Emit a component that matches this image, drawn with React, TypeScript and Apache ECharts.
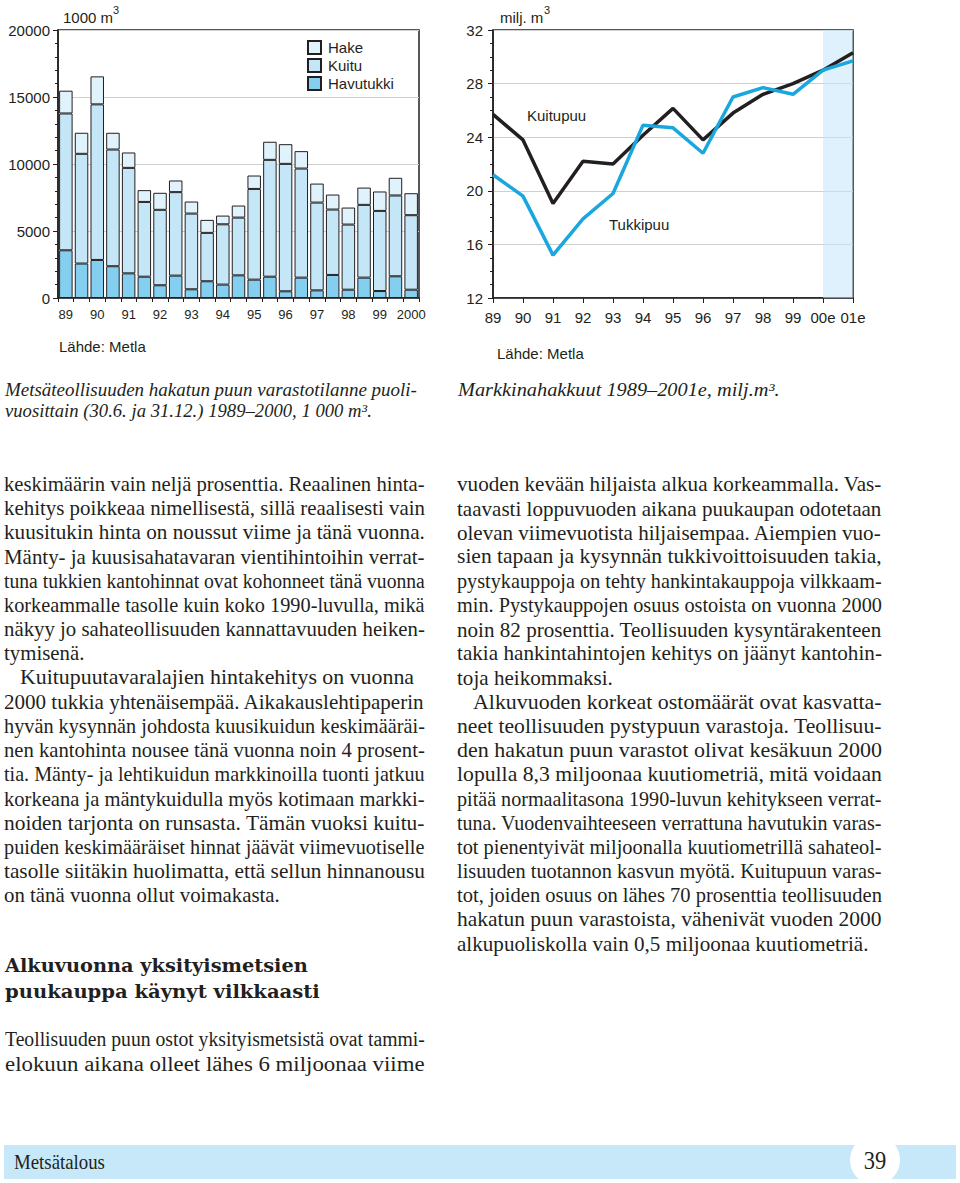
import React, { useEffect, useRef } from 'react';
import * as echarts from 'echarts';

// ---------- Left chart: half-yearly stocks, 1000 m3 ----------
const halfYears = [
  '30.6.1989', '31.12.1989', '30.6.1990', '31.12.1990', '30.6.1991', '31.12.1991',
  '30.6.1992', '31.12.1992', '30.6.1993', '31.12.1993', '30.6.1994', '31.12.1994',
  '30.6.1995', '31.12.1995', '30.6.1996', '31.12.1996', '30.6.1997', '31.12.1997',
  '30.6.1998', '31.12.1998', '30.6.1999', '31.12.1999', '30.6.2000',
];
const yearTickLabels = ['89', '90', '91', '92', '93', '94', '95', '96', '97', '98', '99', '2000'];
const havutukki = [3560, 2570, 2840, 2370, 1840, 1590, 950, 1670, 650, 1250, 1000, 1690, 1370, 1590, 500, 1520, 570, 1720, 620, 1520, 520, 1620, 620];
const kuitu = [10210, 8190, 11610, 8710, 7870, 5580, 5630, 6230, 5650, 3610, 4500, 4310, 6770, 8720, 9510, 8140, 6550, 4880, 4860, 5430, 5980, 6030, 5560];
const hake = [1700, 1570, 2090, 1250, 1150, 880, 1270, 870, 900, 970, 650, 900, 1000, 1350, 1470, 1300, 1420, 1120, 1270, 1290, 1450, 1320, 1640];

// ---------- Right chart: market fellings, milj. m3 ----------
const marketYears = ['89', '90', '91', '92', '93', '94', '95', '96', '97', '98', '99', '00e', '01e'];
const kuitupuu = [25.7, 23.8, 19.05, 22.2, 22.0, 24.15, 26.15, 23.8, 25.8, 27.2, 28.0, 29.0, 30.3];
const tukkipuu = [21.2, 19.6, 15.2, 17.9, 19.8, 24.9, 24.7, 22.8, 27.0, 27.7, 27.2, 29.0, 29.7];

// ---------- Page text ----------
type Line = { t: string; j?: boolean; ind?: number; end?: number };

const leftColumn: Line[] = [
  { t: 'keskimäärin vain neljä prosenttia. Reaalinen hinta-', j: true },
  { t: 'kehitys poikkeaa nimellisestä, sillä reaalisesti vain', j: true },
  { t: 'kuusitukin hinta on noussut viime ja tänä vuonna.', j: true },
  { t: 'Mänty- ja kuusisahatavaran vientihintoihin verrat-', j: true },
  { t: 'tuna tukkien kantohinnat ovat kohonneet tänä vuonna', j: true },
  { t: 'korkeammalle tasolle kuin koko 1990-luvulla, mikä', j: true },
  { t: 'näkyy jo sahateollisuuden kannattavuuden heiken-', j: true },
  { t: 'tymisenä.' },
  { t: 'Kuitupuutavaralajien hintakehitys on vuonna', j: true, ind: 16 },
  { t: '2000 tukkia yhtenäisempää. Aikakauslehtipaperin', j: true },
  { t: 'hyvän kysynnän johdosta kuusikuidun keskimääräi-', j: true },
  { t: 'nen kantohinta nousee tänä vuonna noin 4 prosent-', j: true },
  { t: 'tia. Mänty- ja lehtikuidun markkinoilla tuonti jatkuu', j: true },
  { t: 'korkeana ja mäntykuidulla myös kotimaan markki-', j: true },
  { t: 'noiden tarjonta on runsasta. Tämän vuoksi kuitu-', j: true },
  { t: 'puiden keskimääräiset hinnat jäävät viimevuotiselle', j: true },
  { t: 'tasolle siitäkin huolimatta, että sellun hinnanousu', j: true },
  { t: 'on tänä vuonna ollut voimakasta.' },
];

const rightColumn: Line[] = [
  { t: 'vuoden kevään hiljaista alkua korkeammalla. Vas-', j: true },
  { t: 'taavasti loppuvuoden aikana puukaupan odotetaan', j: true },
  { t: 'olevan viimevuotista hiljaisempaa. Aiempien vuo-', j: true },
  { t: 'sien tapaan ja kysynnän tukkivoittoisuuden takia,', j: true },
  { t: 'pystykauppoja on tehty hankintakauppoja vilkkaam-', j: true },
  { t: 'min. Pystykauppojen osuus ostoista on vuonna 2000', j: true },
  { t: 'noin 82 prosenttia. Teollisuuden kysyntärakenteen', j: true },
  { t: 'takia hankintahintojen kehitys on jäänyt kantohin-', j: true },
  { t: 'toja heikommaksi.' },
  { t: 'Alkuvuoden korkeat ostomäärät ovat kasvatta-', j: true, ind: 16 },
  { t: 'neet teollisuuden pystypuun varastoja. Teollisuu-', j: true },
  { t: 'den hakatun puun varastot olivat kesäkuun 2000', j: true },
  { t: 'lopulla 8,3 miljoonaa kuutiometriä, mitä voidaan', j: true },
  { t: 'pitää normaalitasona 1990-luvun kehitykseen verrat-', j: true },
  { t: 'tuna. Vuodenvaihteeseen verrattuna havutukin varas-', j: true },
  { t: 'tot pienentyivät miljoonalla kuutiometrillä sahateol-', j: true },
  { t: 'lisuuden tuotannon kasvun myötä. Kuitupuun varas-', j: true },
  { t: 'tot, joiden osuus on lähes 70 prosenttia teollisuuden', j: true },
  { t: 'hakatun puun varastoista, vähenivät vuoden 2000', j: true },
  { t: 'alkupuoliskolla vain 0,5 miljoonaa kuutiometriä.' },
];

const headline: Line[] = [
  { t: 'Alkuvuonna yksityismetsien', end: 308 },
  { t: 'puukauppa käynyt vilkkaasti', end: 320 },
];

const bottomPara: Line[] = [
  { t: 'Teollisuuden puun ostot yksityismetsistä ovat tammi-', end: 425 },
  { t: 'elokuun aikana olleet lähes 6 miljoonaa viime', j: true },
];

const leftCaption: Line[] = [
  { t: 'Metsäteollisuuden hakatun puun varastotilanne puoli-', end: 417 },
  { t: 'vuosittain (30.6. ja 31.12.) 1989–2000, 1 000 m³.', end: 372 },
];
const rightCaption: Line[] = [{ t: 'Markkinahakkuut 1989–2001e, milj.m³.', end: 780 }];

const INK = '#231f20';
const SANS = 'Liberation Sans';
const SERIF = 'Liberation Serif';

let measureCtx: CanvasRenderingContext2D | null = null;
function measure(text: string, font: string): number {
  if (!measureCtx) measureCtx = document.createElement('canvas').getContext('2d');
  if (!measureCtx) return text.length * 9;
  measureCtx.font = font;
  return measureCtx.measureText(text).width;
}

type BlockOpt = {
  x0: number; right: number; y0: number; step: number; size: number;
  family: string; style?: string; weight?: string; color?: string;
};

function textLines(lines: Line[], o: BlockOpt): any[] {
  const style = o.style || 'normal';
  const weight = o.weight || 'normal';
  const font = `${style} ${weight} ${o.size}px "${o.family}"`;
  const ratios = lines
    .filter((l) => l.j)
    .map((l) => (o.right - o.x0 - (l.ind || 0)) / measure(l.t, font))
    .sort((a, b) => a - b);
  const med = ratios.length ? ratios[Math.floor(ratios.length / 2)] : 1;
  return lines.map((l, i) => {
    const x = o.x0 + (l.ind || 0);
    const w = measure(l.t, font);
    let s = med;
    if (l.end) s = (l.end - x) / w;
    else if (l.j) s = Math.max(0.85, Math.min((o.right - x) / w, med * 1.05));
    return {
      type: 'text',
      x,
      y: o.y0 + i * o.step,
      scaleX: s,
      silent: true,
      style: {
        text: l.t,
        fontSize: o.size,
        fontFamily: o.family,
        fontStyle: style,
        fontWeight: weight,
        fill: o.color || INK,
        align: 'left',
        verticalAlign: 'middle',
      },
    };
  });
}

function plainText(text: string, x: number, y: number, size: number, extra: any = {}) {
  return {
    type: 'text',
    x,
    y,
    silent: true,
    style: {
      text,
      fontSize: size,
      fontFamily: SANS,
      fill: INK,
      align: 'left',
      verticalAlign: 'middle',
      ...extra,
    },
  };
}

function buildOption(): any {
  const axisLine = { show: true, lineStyle: { color: INK, width: 1.5 } };
  const tickStyle = { color: INK, width: 1 };
  const barItem = (color: string) => ({ color, borderColor: INK, borderWidth: 1 });

  const graphics: any[] = [
    // unit labels
    plainText('1000 m', 63, 17, 15),
    plainText('3', 113, 10, 11),
    plainText('milj. m', 500, 17, 15),
    plainText('3', 544, 10, 11),
    // series labels in the line chart
    plainText('Kuitupuu', 527, 115, 15),
    plainText('Tukkipuu', 609, 224, 15),
    // sources
    plainText('Lähde: Metla', 59, 346, 15),
    plainText('Lähde: Metla', 497, 353, 15),
    // captions
    ...textLines(leftCaption, { x0: 5, right: 417, y0: 390, step: 21.5, size: 18, family: SERIF, style: 'italic' }),
    ...textLines(rightCaption, { x0: 458, right: 780, y0: 390, step: 21.5, size: 18, family: SERIF, style: 'italic' }),
    // body text
    ...textLines(leftColumn, { x0: 4, right: 425, y0: 484, step: 24.2, size: 20.5, family: SERIF }),
    ...textLines(rightColumn, { x0: 457, right: 882, y0: 484, step: 24.2, size: 20.5, family: SERIF }),
    ...textLines(headline, { x0: 5, right: 320, y0: 966, step: 26, size: 19, family: 'DejaVu Serif', weight: 'bold' }),
    ...textLines(bottomPara, { x0: 5, right: 425, y0: 1039, step: 25, size: 20.5, family: SERIF }),
    // footer
    {
      type: 'rect',
      silent: true,
      shape: { x: 4, y: 1145, width: 952, height: 34 },
      style: { fill: '#c6e8f8' },
    },
    {
      type: 'circle',
      silent: true,
      shape: { cx: 875, cy: 1160, r: 25 },
      style: { fill: '#ffffff' },
    },
    ...textLines([{ t: 'Metsätalous', end: 105 }], { x0: 14, right: 105, y0: 1162, step: 0, size: 20, family: SERIF }),
    {
      type: 'text',
      x: 875,
      y: 1161,
      scaleX: 0.9,
      silent: true,
      style: { text: '39', fontSize: 25, fontFamily: SERIF, fill: INK, align: 'center', verticalAlign: 'middle' },
    },
  ];

  return {
    animation: false,
    backgroundColor: '#ffffff',
    textStyle: { fontFamily: SANS, color: INK },
    grid: [
      { left: 58, top: 30, width: 361, height: 268, show: true, borderColor: INK, borderWidth: 1.5, backgroundColor: 'transparent' },
      { left: 493, top: 30, width: 360, height: 268, show: true, borderColor: INK, borderWidth: 1.5, backgroundColor: 'transparent' },
    ],
    legend: {
      data: ['Hake', 'Kuitu', 'Havutukki'],
      orient: 'vertical',
      left: 307,
      top: 40,
      padding: 0,
      itemWidth: 13,
      itemHeight: 13,
      itemGap: 3,
      icon: 'rect',
      selectedMode: false,
      textStyle: { fontSize: 15, fontFamily: SANS, color: INK, padding: [0, 0, 0, 2] },
    },
    xAxis: [
      {
        type: 'category',
        gridIndex: 0,
        data: halfYears,
        boundaryGap: true,
        axisLine,
        axisTick: { show: true, interval: 0, length: 4, lineStyle: tickStyle },
        axisLabel: {
          interval: 0,
          margin: 10,
          fontSize: 13,
          color: INK,
          fontFamily: SANS,
          formatter: (_v: string, i: number) => (i % 2 === 0 ? yearTickLabels[i / 2] : ''),
        },
        splitLine: { show: false },
      },
      {
        type: 'category',
        gridIndex: 1,
        data: marketYears,
        boundaryGap: false,
        axisLine,
        axisTick: { show: true, interval: 0, length: 5, lineStyle: tickStyle },
        axisLabel: { interval: 0, margin: 12, fontSize: 15, color: INK, fontFamily: SANS },
        splitLine: { show: false },
      },
    ],
    yAxis: [
      {
        type: 'value',
        gridIndex: 0,
        min: 0,
        max: 20000,
        interval: 5000,
        axisLine,
        axisTick: { show: true, length: 5, lineStyle: tickStyle },
        minorTick: { show: true, splitNumber: 5, length: 3, lineStyle: tickStyle },
        splitLine: { show: true, lineStyle: { color: '#cfcfcf', width: 1 } },
        axisLabel: { margin: 8, fontSize: 15, color: INK, fontFamily: SANS, formatter: (v: number) => String(v) },
      },
      {
        type: 'value',
        gridIndex: 1,
        min: 12,
        max: 32,
        interval: 4,
        axisLine,
        axisTick: { show: true, length: 5, lineStyle: tickStyle },
        minorTick: { show: true, splitNumber: 4, length: 3, lineStyle: tickStyle },
        splitLine: { show: true, lineStyle: { color: '#cfcfcf', width: 1 } },
        axisLabel: { margin: 10, fontSize: 15, color: INK, fontFamily: SANS, formatter: (v: number) => String(v) },
      },
    ],
    series: [
      { name: 'Havutukki', type: 'bar', stack: 'varasto', xAxisIndex: 0, yAxisIndex: 0, barCategoryGap: '14%', data: havutukki, itemStyle: barItem('#84cff0') },
      { name: 'Kuitu', type: 'bar', stack: 'varasto', xAxisIndex: 0, yAxisIndex: 0, barCategoryGap: '14%', data: kuitu, itemStyle: barItem('#c4e6f7') },
      { name: 'Hake', type: 'bar', stack: 'varasto', xAxisIndex: 0, yAxisIndex: 0, barCategoryGap: '14%', data: hake, itemStyle: barItem('#e0f2fb') },
      {
        name: 'Kuitupuu',
        type: 'line',
        xAxisIndex: 1,
        yAxisIndex: 1,
        data: kuitupuu,
        symbol: 'none',
        lineStyle: { color: INK, width: 3.5 },
        itemStyle: { color: INK },
        z: 3,
        markArea: {
          silent: true,
          itemStyle: { color: 'rgba(196,230,250,0.55)' },
          data: [[{ xAxis: '00e' }, { xAxis: '01e' }]],
        },
      },
      {
        name: 'Tukkipuu',
        type: 'line',
        xAxisIndex: 1,
        yAxisIndex: 1,
        data: tukkipuu,
        symbol: 'none',
        lineStyle: { color: '#1aa6de', width: 3.5 },
        itemStyle: { color: '#1aa6de' },
        z: 4,
      },
    ],
    graphic: graphics,
  };
}

export default function App() {
  const ref = useRef<HTMLDivElement>(null);
  useEffect(() => {
    if (!ref.current) return;
    const chart = echarts.init(ref.current, null, { renderer: 'svg' });
    chart.setOption(buildOption());
    return () => chart.dispose();
  }, []);
  return <div ref={ref} style={{ position: 'absolute', left: 0, top: 0, width: 960, height: 1183 }} />;
}
